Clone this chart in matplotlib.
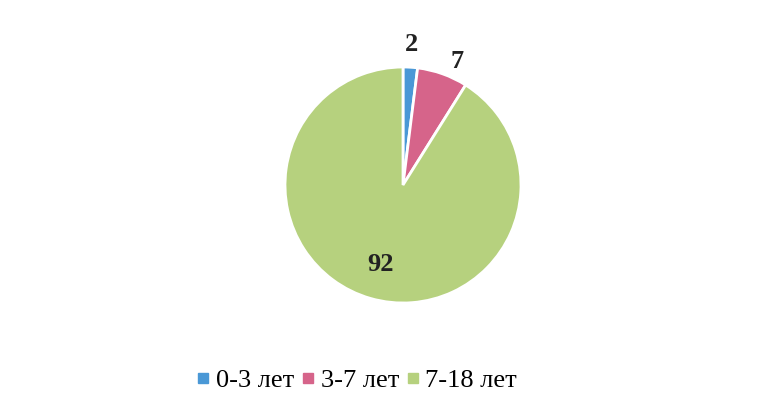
import matplotlib.pyplot as plt
from matplotlib.lines import Line2D
import numpy as np

# данные
labels = ["0-3 лет", "3-7 лет", "7-18 лет"]
values = [2, 7, 92]
colors = ["#4a98d6", "#d6648a", "#b6d17e"]
label_dist = [1.19, 1.14, 0.70]
label_shift = [0, -4, 0]  # градусы

plt.rcParams['font.family'] = ['Liberation Serif', 'DejaVu Serif']

fig = plt.figure(figsize=(7.78, 4.19), dpi=100)
cx, cy, r = 403, 185, 118
ax = fig.add_axes([(cx - r) / 778, (419 - cy - r) / 419, 2 * r / 778, 2 * r / 419])

wedges, _ = ax.pie(values, colors=colors, startangle=90, counterclock=False,
                   wedgeprops=dict(edgecolor="white", linewidth=2))
ax.set_xlim(-1, 1)
ax.set_ylim(-1, 1)
ax.set_aspect("equal")

# подписи значений
for w, v, d, s in zip(wedges, values, label_dist, label_shift):
    ang = np.deg2rad((w.theta1 + w.theta2) / 2 + s)
    ax.text(d * np.cos(ang), d * np.sin(ang), str(v), ha="center", va="center",
            fontsize=19, fontweight="bold", color="#222222")

handles = [Line2D([], [], marker='s', linestyle='none', markersize=6.5,
                  markerfacecolor=c, markeredgecolor=c) for c in colors]
fig.legend(handles, labels, loc="center", bbox_to_anchor=(358 / 778, 1 - 380 / 419),
           ncol=3, frameon=False, prop={'family': 'Liberation Serif', 'size': 19},
           handlelength=0.35, handletextpad=0.3, columnspacing=0.35)

fig.savefig("out.png", dpi=100)
